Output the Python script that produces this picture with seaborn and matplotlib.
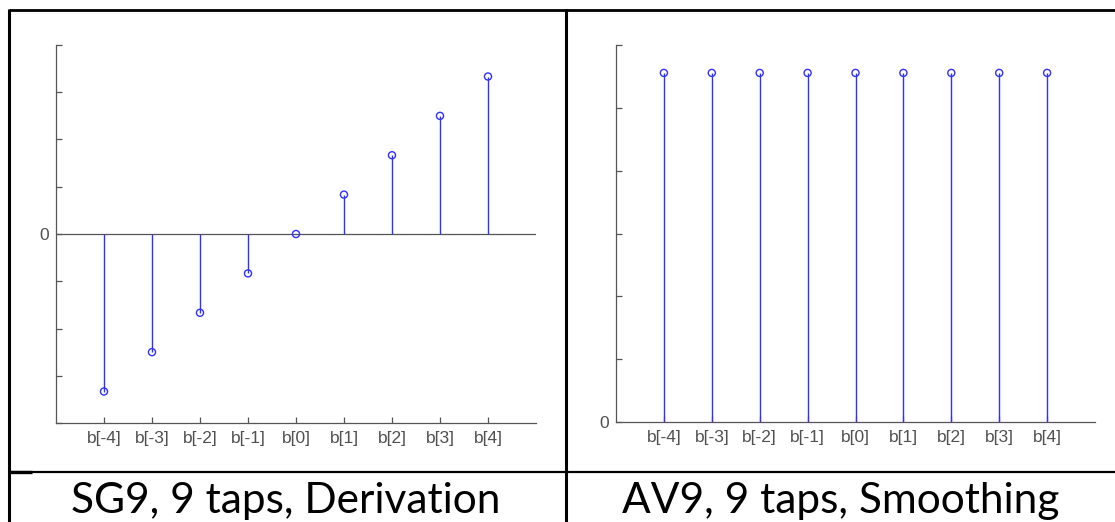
import numpy as np
import pandas as pd
import matplotlib
matplotlib.use("Agg")
import matplotlib.pyplot as plt
from matplotlib.lines import Line2D
from matplotlib.ticker import FixedLocator, FuncFormatter
import seaborn as sns

# Filter taps and coefficients
taps = [-4, -3, -2, -1, 0, 1, 2, 3, 4]
tap_labels = ["b[-4]", "b[-3]", "b[-2]", "b[-1]", "b[0]", "b[1]", "b[2]", "b[3]", "b[4]"]
sg9_coeffs = [-4/60, -3/60, -2/60, -1/60, 0.0, 1/60, 2/60, 3/60, 4/60]
av9_coeffs = [1/9, 1/9, 1/9, 1/9, 1/9, 1/9, 1/9, 1/9, 1/9]
captions = ["SG9, 9 taps, Derivation", "AV9, 9 taps, Smoothing"]

sns.set_theme(style="white")
plt.rcParams["font.family"] = ["Liberation Sans", "DejaVu Sans"]

W, H = 1115, 522
fig = plt.figure(figsize=(W / 100, H / 100), dpi=100)
fig.patch.set_facecolor("white")


def px_rect(x0, y0, x1, y1):
    return [x0 / W, 1 - y1 / H, (x1 - x0) / W, (y1 - y0) / H]


STEM = "#3030ff"
AXIS = "#555555"
TEXT = "#505050"


def stem_panel(ax, coeffs, ylim, yticks):
    df = pd.DataFrame({"tap": taps, "coef": coeffs})
    ax.vlines(df["tap"], 0, df["coef"], color=STEM, lw=1.0, zorder=2)
    sns.scatterplot(data=df, x="tap", y="coef", ax=ax, marker="o", s=26,
                    facecolor="none", edgecolor=STEM, linewidth=1.0, zorder=3)
    ax.set_xlim(-5, 5)
    ax.set_ylim(*ylim)
    ax.set_xlabel("")
    ax.set_ylabel("")
    ax.xaxis.set_major_locator(FixedLocator(taps))
    ax.set_xticklabels(tap_labels)
    ax.yaxis.set_major_locator(FixedLocator(yticks))
    ax.yaxis.set_major_formatter(FuncFormatter(lambda v, p: "0" if abs(v) < 1e-12 else ""))
    for side in ("top", "right"):
        ax.spines[side].set_visible(False)
    for side in ("left", "bottom"):
        ax.spines[side].set_color(AXIS)
        ax.spines[side].set_linewidth(0.9)
    ax.tick_params(axis="both", direction="in", length=4, width=0.9,
                   color=AXIS, labelcolor=TEXT, labelsize=12.5)
    ax.tick_params(axis="x", pad=6, bottom=True)
    ax.tick_params(axis="y", pad=5, left=True)
    ax.set_facecolor("none")


ax1 = fig.add_axes(px_rect(56, 45, 536, 423))
stem_panel(ax1, sg9_coeffs, (-0.08, 0.08), np.arange(-0.08, 0.0801, 0.02))
ax1.axhline(0, color=AXIS, lw=0.9, zorder=1)

ax2 = fig.add_axes(px_rect(616, 45, 1095, 422))
stem_panel(ax2, av9_coeffs, (0, 0.12), np.arange(0, 0.1201, 0.02))

# Panel frame
frame = dict(color="black", solid_capstyle="butt", transform=fig.transFigure)
fig.add_artist(Line2D([8.5 / W, 1.0], [1 - 9.5 / H] * 2, lw=2.0, **frame))
fig.add_artist(Line2D([8.5 / W] * 2, [0, 1 - 8.5 / H], lw=2.2, **frame))
fig.add_artist(Line2D([565.5 / W] * 2, [0, 1 - 8.5 / H], lw=2.2, **frame))
fig.add_artist(Line2D([8.5 / W, 1.0], [1 - 472 / H] * 2, lw=1.6, **frame))
fig.add_artist(Line2D([8.5 / W, 32 / W], [1 - 471.5 / H] * 2, lw=2.4, **frame))

# Captions
for cx, txt in zip([286, 841], captions):
    fig.text(cx / W, 1 - 513 / H, txt, ha="center", va="baseline",
             fontsize=30.5, color="black", family=["Lato", "DejaVu Sans"])

fig.savefig("out.png", dpi=100, facecolor="white")
